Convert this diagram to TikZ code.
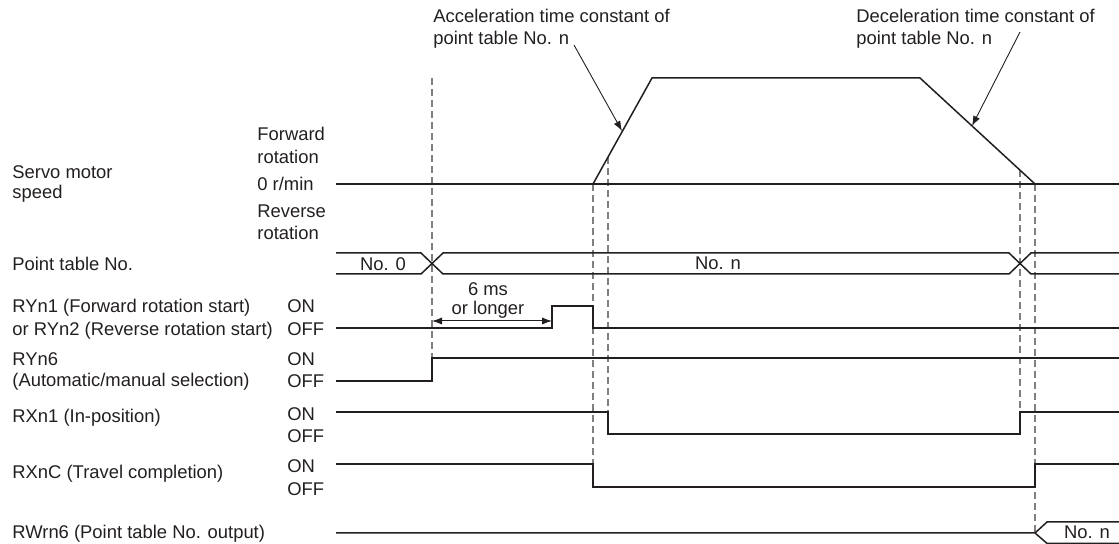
\documentclass[tikz,border=0pt]{standalone}
\usepackage{fontspec}
\setmainfont{Liberation Sans}
\usetikzlibrary{arrows.meta}
\definecolor{sig}{HTML}{231F20}
\definecolor{dsh}{HTML}{7F7F7F}
\begin{document}
\begin{tikzpicture}[x=0.5pt,y=-0.5pt,
  sigline/.style={draw=sig,line width=0.75pt,line join=miter},
  guide/.style={draw=dsh,line width=0.55pt,dash pattern=on 3.5pt off 2pt},
  lbl/.style={inner sep=0pt,anchor=base west,font=\fontsize{9.2}{11}\selectfont,text=sig},
  clbl/.style={inner sep=0pt,anchor=base,font=\fontsize{9.2}{11}\selectfont,text=sig},
  callout/.style={draw=sig,line width=0.45pt,-{Latex[length=5pt,width=3.6pt]}},
  span/.style={draw=sig,line width=0.5pt,{Latex[length=5pt,width=3.6pt]}-{Latex[length=5pt,width=3.6pt]}}]
\useasboundingbox (0,0) rectangle (1119,544);

% ---------- left labels ----------
\node[lbl] (servo1) at (12,179) {Servo motor};
\node[lbl] (servo2) at (12,199) {speed};
\node[lbl] (fwd1) at (257,141) {Forward};
\node[lbl] (fwd2) at (257,164) {rotation};
\node[lbl] (zero) at (257,191) {0 r/min};
\node[lbl] (rev1) at (257,218) {Reverse};
\node[lbl] (rev2) at (257,240) {rotation};
\node[lbl] (ptno) at (12,271) {Point table No.};
\node[lbl] (ryn1a) at (12,313) {RYn1 (Forward rotation start)};
\node[lbl] (ryn1b) at (12,336) {or RYn2 (Reverse rotation start)};
\node[lbl] (ryn1on) at (287,313) {ON};
\node[lbl] (ryn1off) at (287,336) {OFF};
\node[lbl] (ryn6a) at (12,366) {RYn6};
\node[lbl] (ryn6b) at (12,387) {(Automatic/manual selection)};
\node[lbl] (ryn6on) at (287,366) {ON};
\node[lbl] (ryn6off) at (287,388) {OFF};
\node[lbl] (rxn1) at (12,423) {RXn1 (In-position)};
\node[lbl] (rxn1on) at (287,421) {ON};
\node[lbl] (rxn1off) at (287,443) {OFF};
\node[lbl] (rxnc) at (12,479) {RXnC (Travel completion)};
\node[lbl] (rxncon) at (287,473) {ON};
\node[lbl] (rxncoff) at (287,496) {OFF};
\node[lbl] (rwrn6) at (12,539) {RWrn6 (Point table No. output)};

% ---------- top annotations ----------
\node[lbl] (acc1) at (433,23) {Acceleration time constant of};
\node[lbl] (acc2) at (433,45) {point table No. n};
\node[lbl] (dec1) at (856,23) {Deceleration time constant of};
\node[lbl] (dec2) at (856,45) {point table No. n};
\coordinate (accfrom) at (574,45);
\coordinate (accto) at (622,131);
\coordinate (decfrom) at (1020,32);
\coordinate (decto) at (972,126);
\draw[callout] (accfrom) -- (accto);
\draw[callout] (decfrom) -- (decto);

% ---------- guide lines ----------
\draw[guide] (432,78) -- (432,358);
\draw[guide] (593,184) -- (593,464);
\draw[guide] (608,157) -- (608,412);
\draw[guide] (1020,170) -- (1020,412);
\draw[guide] (1035,184) -- (1035,533);

% ---------- servo motor speed ----------
\draw[sigline] (336,184) -- (1119,184);
\draw[sigline] (593,184) -- (652,78) -- (920,78) -- (1035,184);

% ---------- point table No. ----------
\draw[sigline] (336,253) -- (421,253) -- (443,274) -- (1009,274) -- (1031,253) -- (1119,253);
\draw[sigline] (336,274) -- (421,274) -- (443,253) -- (1009,253) -- (1031,274) -- (1119,274);
\node[clbl] (no0) at (383,271) {No. 0};
\node[clbl] (non) at (718,270) {No. n};

% ---------- RYn1 ----------
\draw[sigline] (336,328) -- (552,328) -- (552,306) -- (593,306) -- (593,328) -- (1119,328);
\coordinate (spanL) at (432,321);
\coordinate (spanR) at (552,321);
\draw[span] (spanL) -- (spanR);
\node[clbl] (six) at (488,296) {6 ms};
\node[clbl] (longer) at (488,315) {or longer};

% ---------- RYn6 ----------
\draw[sigline] (336,381) -- (432,381) -- (432,358) -- (1119,358);

% ---------- RXn1 ----------
\draw[sigline] (336,412) -- (608,412) -- (608,434) -- (1020,434) -- (1020,412) -- (1119,412);

% ---------- RXnC ----------
\draw[sigline] (336,464) -- (593,464) -- (593,487) -- (1035,487) -- (1035,464) -- (1119,464);

% ---------- RWrn6 ----------
\draw[sigline] (336,533) -- (1035,533) -- (1047,522) -- (1119,522);
\draw[sigline] (1035,533) -- (1047,543.4) -- (1119,543.4);
\node[clbl] (non2) at (1087,539) {No. n};
\end{tikzpicture}
\end{document}
